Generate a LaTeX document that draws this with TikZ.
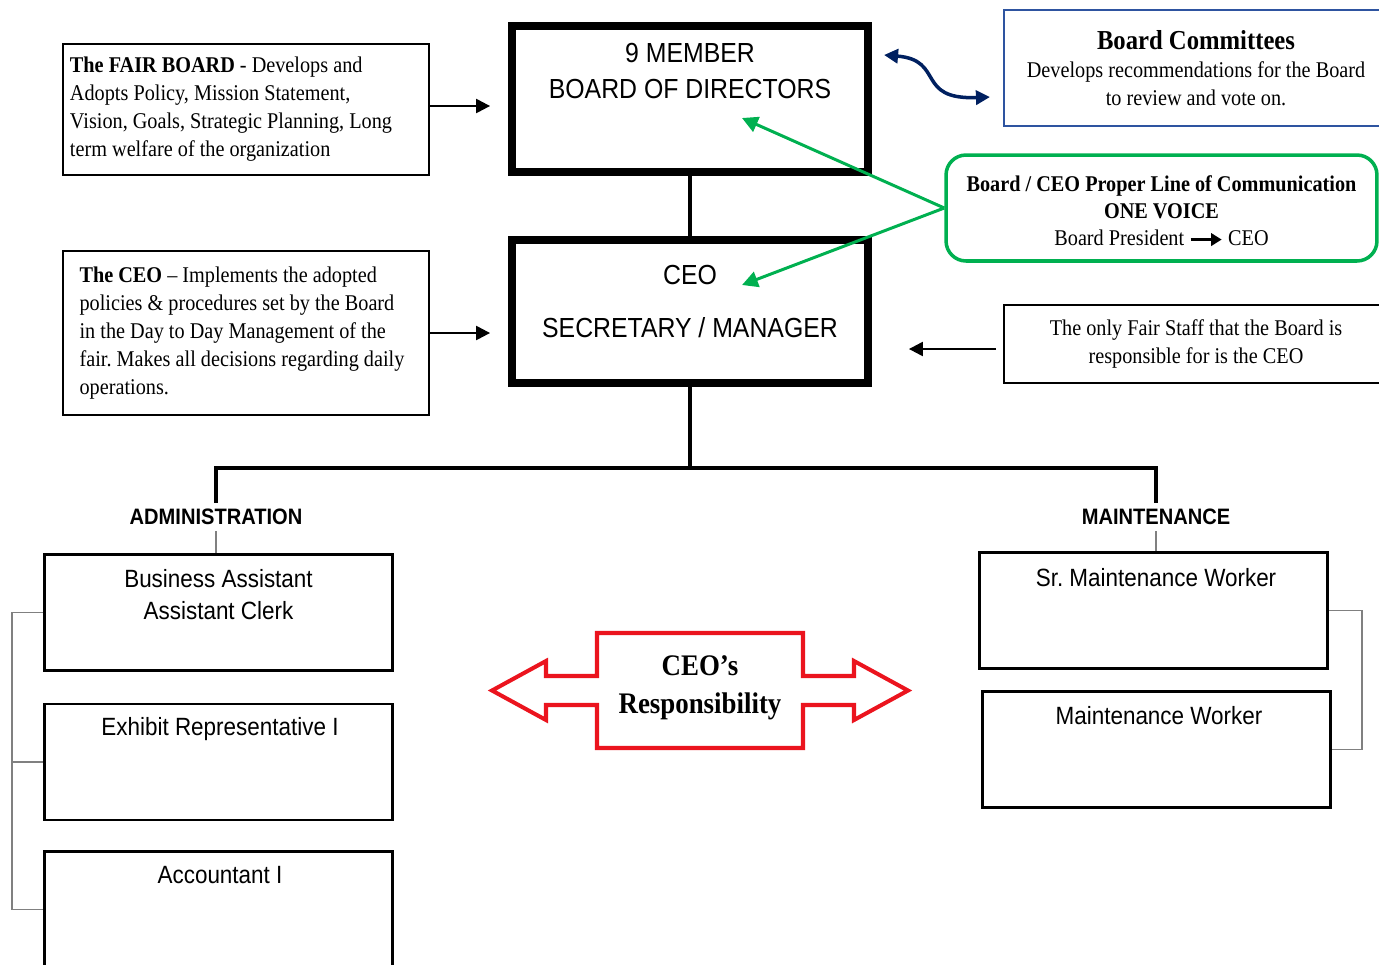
\documentclass[tikz,border=0pt]{standalone}
\usepackage{fontspec}
\setmainfont{Liberation Serif}
\setsansfont{Liberation Sans}
\newfontfamily\notefont{Liberation Serif}[FakeStretch=0.9]
\newfontfamily\boxfont{Liberation Sans}[FakeStretch=0.9]
\usetikzlibrary{arrows.meta,positioning}
\definecolor{cmtblue}{RGB}{46,84,160}
\definecolor{navyarrow}{RGB}{0,32,96}
\definecolor{voicegreen}{RGB}{0,176,80}
\definecolor{respred}{RGB}{235,20,30}
\frenchspacing

\begin{document}
\begin{tikzpicture}[x=0.02cm,y=-0.02cm,
  notebox/.style={draw,line width=1.1pt,align=left,font=\notefont\fontsize{12.8}{15.9}\selectfont},
  bigbox/.style={draw,line width=4.5pt,minimum width=7.12cm},
  bigtext/.style={font=\boxfont\fontsize{15.7}{20.5}\selectfont,align=center},
  jobbox/.style={draw,line width=1.6pt,minimum width=6.96cm,minimum height=2.32cm},
  jobtext/.style={font=\boxfont\fontsize{14.2}{18.2}\selectfont,align=center},
  head/.style={font=\boxfont\bfseries\fontsize{12.7}{14}\selectfont},
  arr/.style={-{Triangle[length=8pt,width=8pt]},line width=1.3pt},
  greenarr/.style={-{Triangle[length=9pt,width=9pt]},line width=1.7pt,voicegreen},
  busline/.style={line width=2.6pt},
  bracket/.style={line width=0.8pt,gray}]
  \useasboundingbox (0,0) rectangle (1379,964);
  \clip (0,0) rectangle (1379,964);

  % board and CEO
  \node[bigbox,minimum height=2.92cm] (bod) at (690,99) {};
  \node[bigtext] (bodtext) at (690,71) {9 MEMBER\\BOARD OF DIRECTORS};
  \node[bigbox,minimum height=2.86cm] (ceo) at (690,311.5) {};
  \node[bigtext] (ceotext) at (690,301.5) {CEO\\[9.7pt]SECRETARY / MANAGER};
  \draw[busline] (bod.south) -- (ceo.north);

  % notes on the left
  \node[notebox,minimum width=7.32cm,minimum height=2.62cm] (fair) at (246,109.5) {\textbf{The FAIR BOARD} - Develops and\\Adopts Policy, Mission Statement,\\Vision, Goals, Strategic Planning, Long\rule{0.6cm}{0pt}\\term welfare of the organization};
  \node[notebox,minimum width=7.32cm,minimum height=3.28cm] (ceonote) at (246,333) {\textbf{The CEO} – Implements the adopted\\policies \& procedures set by the Board\\in the Day to Day Management of the\\fair. Makes all decisions regarding daily\rule{0.16cm}{0pt}\\operations.};
  \draw[arr,shorten >=0.36cm,transform canvas={yshift=0.07cm}] (fair.east) -- (fair.east -| bod.west);
  \draw[arr,shorten >=0.36cm] (ceonote.east) -- (ceonote.east -| ceo.west);

  % notes on the right
  \node[draw=cmtblue,line width=1.6pt,minimum width=7.68cm,minimum height=2.32cm,align=center,font=\notefont\fontsize{12.8}{15.9}\selectfont] (comm) at (1196,68) {{\fontsize{15.6}{18}\selectfont\bfseries Board Committees}\\Develops recommendations for the Board\\to review and vote on.};
  \node[draw=voicegreen,line width=2pt,rounded corners=0.4cm,minimum width=8.62cm,minimum height=2.12cm,align=center,font=\notefont\fontsize{12.8}{15.3}\selectfont] (voice) at (1161.5,208) {\rule{0pt}{12.5pt}\textbf{Board / CEO Proper Line of Communication}\\\textbf{ONE VOICE}\\Board President \tikz[baseline=-0.6ex]\draw[black,-{Triangle[length=6pt,width=7pt]},line width=1.6pt] (0,0) -- (0.62cm,0); CEO};
  \node[draw,line width=1.1pt,minimum width=7.68cm,minimum height=1.56cm,align=center,font=\notefont\fontsize{12.8}{15.9}\selectfont] (staff) at (1196,344) {The only Fair Staff that the Board is\\responsible for is the CEO};
  \coordinate (wavea) at (884,55);
  \coordinate (waveb) at (990,97);
  \draw[navyarrow,line width=2pt,{Triangle[length=8pt,width=8pt]}-{Triangle[length=8pt,width=8pt]}] (wavea) .. controls (945,60) and (915,100) .. (waveb);
  \coordinate (bodpt) at (742,118);
  \coordinate (ceopt) at (742,285);
  \draw[greenarr] (voice.west) -- (bodpt);
  \draw[greenarr] (voice.west) -- (ceopt);
  \draw[arr,shorten <=0.14cm,shorten >=0.74cm,transform canvas={yshift=-0.1cm}] (staff.west) -- (staff.west -| ceo.east);

  % staff
  \node[head] (adm) at (216,517) {ADMINISTRATION};
  \node[head] (mnt) at (1156,517) {MAINTENANCE};
  \coordinate (bus) at (690,468);
  \draw[busline] (ceo.south) -- (bus);
  \draw[busline] (adm.north) |- (bus) -| (mnt.north);
  \node[jobbox] (bus1) at (218.5,612.5) {};
  \node[jobtext] (bus1text) at (218.5,595) {Business Assistant\\Assistant Clerk};
  \node[jobbox] (exh) at (218.5,762) {};
  \node[jobtext] (exhtext) at (220,729) {Exhibit Representative I};
  \node[jobbox] (acct) at (218.5,909.5) {};
  \node[jobtext] (accttext) at (220,875) {Accountant I};
  \node[jobbox] (srm) at (1153.5,610.5) {};
  \node[jobtext] (srmtext) at (1156,578) {Sr. Maintenance Worker};
  \node[jobbox] (mw) at (1156.5,749.5) {};
  \node[jobtext] (mwtext) at (1159,716) {Maintenance Worker};
  \draw[bracket] (adm.south) -- (adm.south |- bus1.north);
  \draw[bracket] (mnt.south) -- (mnt.south |- srm.north);
  \coordinate (lbr) at (12,762);
  \draw[bracket] (bus1.west) -| (lbr) |- (acct.west);
  \draw[bracket] (exh.west) -- (lbr);
  \coordinate (rbr) at (1362,680);
  \draw[bracket] (srm.east) -| (rbr) |- (mw.east);

  % CEO's responsibility
  \draw[respred,line width=2.3pt] (597,633) -- (803,633) -- (803,676) -- (854,676) -- (854,661) -- (908,690.5) -- (854,720) -- (854,705) -- (803,705) -- (803,748) -- (597,748) -- (597,705) -- (546,705) -- (546,720) -- (492,690.5) -- (546,661) -- (546,676) -- (597,676) -- cycle;
  \node[font=\notefont\bfseries\fontsize{17}{21.6}\selectfont,align=center] (resp) at (700,688) {CEO’s\\Responsibility};
\end{tikzpicture}
\end{document}
